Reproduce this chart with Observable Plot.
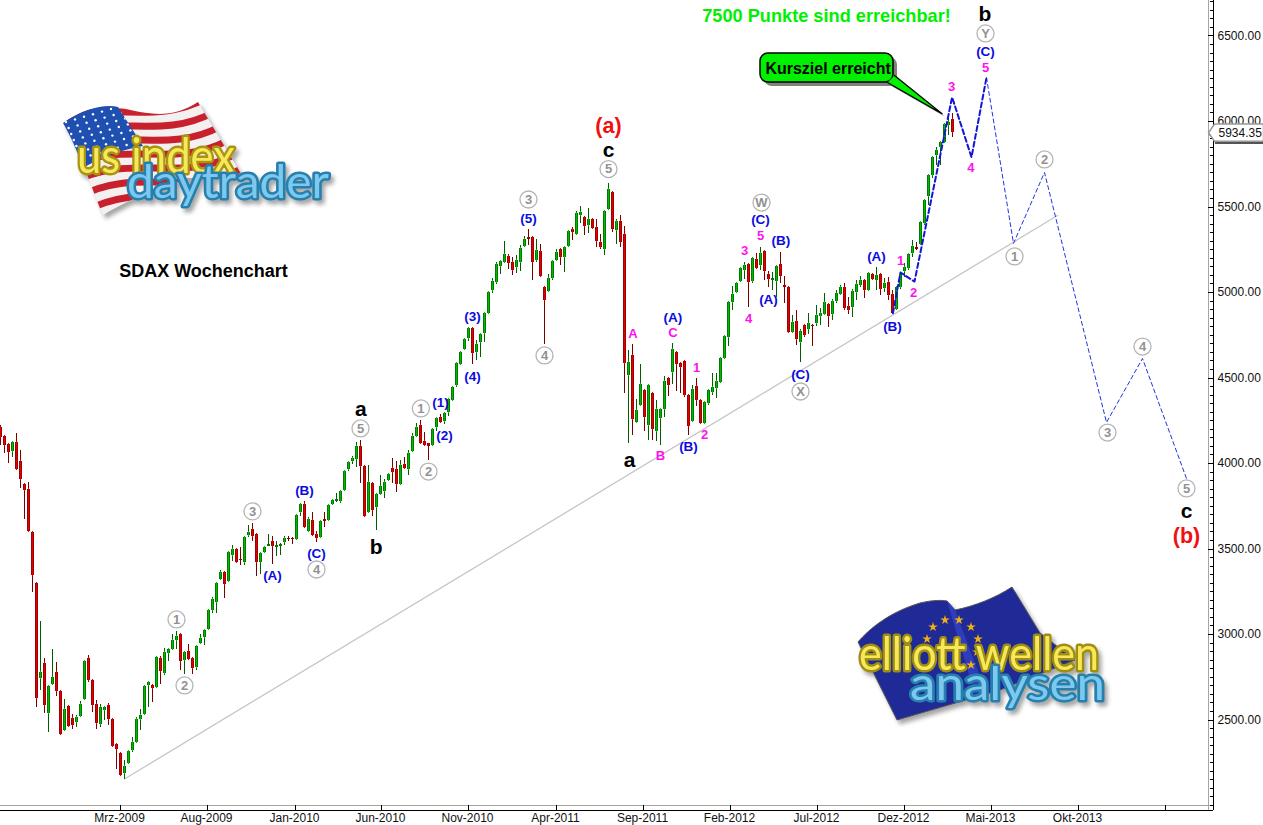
<!DOCTYPE html>
<html><head><meta charset="utf-8">
<script src="https://cdn.jsdelivr.net/npm/d3@7"></script>
<script src="https://cdn.jsdelivr.net/npm/@observablehq/plot@0.6"></script>
<style>
html,body{margin:0;padding:0;background:#fff;overflow:hidden}
#wrap{position:relative;width:1263px;height:825px}
#wrap>svg{position:absolute;left:0;top:0;display:block}
</style></head><body><div id="wrap"></div>
<script>
const direction = "RRRGRRRRRR"+"GRGGRRGRRG"+"GGRRRGGRRR"+"RGGGGGGGRG"+"RGGGGRGRRG"+"GGGGGGRGGR"+"RGGRRGGGRG"+"GGRRGGRGRR"+"GRGGGGGGGG"+"RRGRGGGGRR"+"GRGGGRRRGG"+"RGGGGGGGRG"+"GGGGGGGRRG"+"GGRRGRRGGG"+"RGGRGGRGRR"+"RGGRGRRGRG"+"GRGRGGGRGR"+"RRRGRRGGGG"+"GGGGGGGRGR"+"GRRGGRRRGR"+"GRGRGGGRGG"+"GRRGGGRGRG"+"RGRRGGGGGR"+"GGGGGGGGR";
const highs = [
4222,4163,4118,4122,4173,4076,3877,3888,3596,3296,
3075,2859,2699,2911,2835,2671,2619,2578,2535,2525,
2607,2841,2876,2736,2613,2590,2580,2597,2502,2363,
2303,2266,2315,2395,2512,2564,2699,2718,2699,2874,
2874,2921,2915,2999,3017,2999,2894,2941,2859,2935,
2999,3023,3145,3218,3305,3374,3362,3479,3518,3498,
3510,3567,3635,3647,3588,3473,3514,3582,3572,3545,
3531,3572,3572,3568,3699,3764,3777,3684,3715,3602,
3662,3711,3760,3791,3822,3845,3962,4011,4042,4124,
4134,3984,3988,3890,3820,3929,3908,3943,4027,4009,
4017,4037,4076,4173,4235,4251,4183,4115,4198,4268,
4286,4293,4377,4449,4586,4654,4728,4789,4793,4718,
4761,4878,5001,5079,5177,5190,5298,5222,5202,5216,
5272,5327,5366,5325,5309,5280,5034,5105,5186,5249,
5253,5268,5356,5381,5475,5502,5438,5491,5426,5424,
5339,5475,5635,5584,5424,5450,5385,4660,4695,4377,
4579,4427,4456,4407,4368,4320,4509,4505,4700,4651,
4593,4599,4398,4456,4499,4368,4355,4427,4525,4528,
4622,4743,4944,5035,5061,5143,5174,5162,5197,5226,
5262,5246,5125,5119,5158,5232,5096,5031,4866,4895,
4784,4807,4875,4811,4923,4904,4995,4933,4962,5011,
5040,5050,4972,5017,5070,5093,5077,5116,5112,5144,
5112,5081,5089,5011,5031,5112,5167,5226,5307,5294,
5409,5541,5686,5791,5850,5885,5986,6015,6045];
const bodyTops = [
4212,4157,4111,4120,4120,4009,3877,3847,3594,3296,
2777,2833,2695,2748,2777,2666,2564,2578,2506,2514,
2588,2841,2859,2730,2593,2572,2572,2582,2502,2358,
2303,2231,2313,2371,2502,2525,2695,2718,2699,2865,
2859,2894,2911,2964,2987,2999,2892,2900,2859,2929,
2976,3021,3139,3202,3301,3362,3360,3477,3500,3496,
3438,3567,3596,3613,3584,3471,3508,3524,3543,3520,
3528,3563,3563,3563,3695,3758,3760,3674,3664,3584,
3658,3672,3754,3783,3789,3836,3953,4003,4027,4097,
4099,3982,3888,3882,3816,3865,3890,3935,3970,3964,
3986,3994,4058,4157,4208,4222,4126,4115,4196,4266,
4268,4291,4373,4447,4582,4652,4724,4787,4789,4695,
4754,4875,4999,5062,5163,5181,5222,5212,5173,5186,
5255,5309,5321,5321,5245,5237,5032,5081,5183,5233,
5251,5265,5354,5366,5460,5467,5436,5424,5424,5378,
5292,5471,5602,5582,5413,5417,5339,4590,4631,4309,
4460,4425,4454,4407,4314,4316,4480,4497,4667,4649,
4585,4597,4396,4433,4450,4366,4355,4425,4443,4480,
4614,4741,4942,4989,5055,5141,5156,5162,5197,5193,
5230,5240,5106,5080,5152,5164,5041,5029,4825,4833,
4772,4805,4817,4809,4865,4878,4941,4929,4947,4993,
5029,5031,4919,5005,5044,5070,5070,5112,5108,5097,
5107,5050,5058,4988,5027,5108,5144,5222,5268,5266,
5407,5537,5682,5789,5830,5879,5980,5994,6009];
const bodyBottoms = [
4154,4105,4066,4072,3964,3908,3845,3602,3346,2627,
2744,2586,2539,2709,2668,2414,2439,2461,2469,2484,
2521,2621,2730,2586,2480,2475,2556,2504,2346,2326,
2176,2186,2244,2320,2369,2502,2533,2703,2683,2691,
2783,2773,2890,2915,2964,2843,2847,2855,2800,2808,
2948,2984,3030,3143,3190,3323,3294,3311,3463,3422,
3430,3420,3580,3572,3420,3420,3479,3516,3516,3510,
3516,3539,3555,3555,3557,3715,3627,3602,3578,3563,
3568,3662,3668,3760,3777,3779,3843,3966,4011,4021,
3980,3691,3715,3725,3744,3818,3838,3898,3949,3877,
3877,3972,3966,4072,4159,4118,4107,4101,4106,4208,
4241,4243,4299,4368,4455,4578,4668,4732,4644,4650,
4709,4761,4878,5011,5060,5151,5175,5167,5128,5146,
5177,5270,5311,5177,5186,5095,4951,5007,5081,5190,
5206,5206,5268,5350,5342,5452,5387,5389,5376,5300,
5261,5253,5483,5368,5362,5294,4586,4512,4260,4241,
4339,4271,4224,4201,4189,4265,4318,4458,4530,4579,
4563,4398,4216,4248,4368,4236,4232,4353,4415,4441,
4476,4614,4735,4942,5000,5067,5129,5061,5067,5143,
5156,5125,5076,5070,5067,5096,5031,4768,4768,4723,
4710,4749,4786,4801,4820,4861,4871,4859,4871,4945,
4990,4904,4894,4910,5001,5040,5011,5011,5077,5073,
5019,5023,4984,4875,4898,5031,5124,5140,5229,5253,
5280,5401,5563,5682,5801,5850,5879,5978,5934];
const lows = [
4105,4060,3998,4037,3958,3855,3672,3598,3247,2574,
2671,2539,2426,2709,2636,2410,2439,2457,2443,2455,
2516,2621,2720,2543,2445,2457,2496,2469,2340,2213,
2176,2155,2244,2309,2360,2437,2531,2574,2601,2691,
2707,2759,2841,2906,2915,2788,2765,2853,2765,2788,
2944,2935,3030,3120,3124,3319,3212,3311,3428,3416,
3405,3405,3565,3545,3340,3350,3475,3514,3409,3455,
3461,3520,3545,3524,3557,3691,3627,3594,3572,3539,
3568,3627,3666,3754,3771,3764,3843,3955,3994,3978,
3884,3691,3715,3689,3609,3812,3793,3894,3884,3832,
3877,3968,3929,4070,4157,4111,4101,4017,4106,4188,
4237,4227,4274,4368,4445,4572,4666,4715,4578,4601,
4621,4709,4878,4995,5046,5105,5175,5132,5101,5112,
5124,5268,5272,5069,5177,5089,4695,5007,5073,5186,
5157,5118,5261,5303,5339,5405,5333,5343,5370,5265,
5253,5218,5479,5350,5280,5261,4410,4118,4163,4235,
4333,4189,4134,4134,4131,4107,4271,4394,4462,4421,
4407,4388,4166,4242,4333,4232,4228,4339,4398,4378,
4474,4610,4684,4895,4996,5061,5076,4915,5055,5139,
5129,5070,5031,5012,4973,5051,4934,4768,4762,4690,
4593,4739,4755,4684,4800,4806,4865,4793,4836,4933,
4982,4894,4871,4855,4953,5031,4964,5005,5070,5011,
4982,5001,4953,4871,4894,5015,5089,5128,5206,5245,
5276,5393,5508,5666,5742,5742,5869,5918,5908];

const timeTicks = [30,51.75,73.75,95.25,117,139,160.75,182.5,204.25,226,247.75,269.5,291.25];
const timeLabels = ["Mrz-2009","Aug-2009","Jan-2010","Jun-2010","Nov-2010","Apr-2011","Sep-2011","Feb-2012","Jul-2012","Dez-2012","Mai-2013","Okt-2013",""];
const priceTicks = [2500,3000,3500,4000,4500,5000,5500,6000,6500];
const minorTicks = d3.range(2000,6701,50);
const lastPrice = 5934.35;

const trendLine = [[31,2155],[264.25,5450]];
const forecastNear = [[223.1,4879],[225,5117],[228.5,5064],[237.9,6142],[242.75,5791],[246.5,6257]];
const forecastFar = [[246.5,6257],[253.25,5287],[261,5702],[276.5,4240],[285.5,4614],[296.5,3912]];

const circled = [[44,3088,"1"],[46,2702,"2"],[63,3720,"3"],[79,3380,"4"],[90,4205,"5"],[105.1,4322,"1"],[107,3953,"2"],[132,5544,"3"],[136,4632,"4"],[152,5722,"5"],[190.25,5526,"W"],[200,4421,"X"],[246.25,6515,"Y"],[261,5778,"2"],[253.5,5211,"1"],[276.75,4181,"3"],[285.5,4684,"4"],[296.5,3854,"5"]];
const blueLabels = [[68,3342,"(A)"],[76,3842,"(B)"],[79,3471,"(C)"],[110,4357,"(1)"],[111,4161,"(2)"],[118,4860,"(3)"],[118,4509,"(4)"],[132,5433,"(5)"],[168.1,4854,"(A)"],[172,4097,"(B)"],[192,4959,"(A)"],[195.1,5304,"(B)"],[190,5427,"(C)"],[200,4521,"(C)"],[219,5211,"(A)"],[223,4799,"(B)"],[246.25,6410,"(C)"]];
const magentaLabels = [[158.1,4761,"A"],[168.1,4766,"C"],[165,4047,"B"],[174,4562,"1"],[176,4170,"2"],[186,5246,"3"],[190,5334,"5"],[187,4848,"4"],[225,5188,"1"],[228.25,5000,"2"],[237.75,6205,"3"],[242.6,5731,"4"],[246.25,6316,"5"]];
const blackLabels = [[90.1,4316,"a"],[93.9,3512,"b"],[152,5831,"c"],[157.25,4018,"a"],[246.1,6626,"b"],[296.5,3720,"c"]];
const redLabels = [[152,5971,"(a)"],[296.5,3574,"(b)"]];
const calloutBox = [{x1:190,x2:223.25,y1:6228,y2:6398}];
const calloutTail = [[223.5,6269],[235.4,6045],[221.75,6228]];
const priceTag = [[302,lastPrice],[303.5,5985],[315.75,5985],[315.75,5885],[303.5,5885]];

const bars = highs.map((h,i)=>({k:i,high:h,low:lows[i],top:bodyTops[i],bottom:bodyBottoms[i],up:direction[i]==="G"}));
const upBars = bars.filter(b=>b.up), downBars = bars.filter(b=>!b.up);
const crisp = {shapeRendering:"crispEdges"};
const font = "'Liberation Sans', Arial, sans-serif";
const X = d=>d[0], Y = d=>d[1], T = d=>d[2];
const candle = (rows,dark,edge,mid)=>[
  Plot.ruleX(rows,{x:"k",y1:"low",y2:"high",stroke:dark,strokeWidth:1,...crisp}),
  Plot.ruleX(rows,{x:"k",y1:"bottom",y2:"top",stroke:edge,strokeWidth:3,...crisp}),
  Plot.ruleX(rows.filter(b=>b.top-b.bottom>14),{x:"k",y1:"bottom",y2:"top",insetTop:1,insetBottom:1,stroke:mid,strokeWidth:1,...crisp})
];
const labels = (rows,fill,fontSize,extra={})=>Plot.text(rows,{x:X,y:Y,text:T,fill,fontSize,fontWeight:"bold",fontFamily:font,lineAnchor:"middle",...extra});

const chart = Plot.plot({
  width:1263,height:825,marginTop:0,marginLeft:0,marginRight:50,marginBottom:15,
  style:{background:"white",overflow:"visible",fontFamily:font},
  x:{type:"linear",domain:[0,303.25]},
  y:{type:"linear",domain:[1970.8,6707.6]},
  marks:[
    Plot.line(trendLine,{x:X,y:Y,stroke:"#c6c6c0",strokeWidth:1.3}),
    ...candle(downBars,"#7a0000","#a00000","#e00000"),
    ...candle(upBars,"#006000","#007a00","#00b800"),
    Plot.line(forecastFar,{x:X,y:Y,stroke:"#1f35e0",strokeWidth:1,strokeDasharray:"4 3"}),
    Plot.line(forecastNear,{x:X,y:Y,stroke:"#1414d8",strokeWidth:2,strokeDasharray:"5 3"}),
    // axes
    Plot.ruleY([2000],{stroke:"#a6a69a",...crisp}),
    Plot.ruleY([1970.8],{stroke:"black",...crisp}),
    Plot.ruleX([302],{y1:1970.8,y2:6707.6,stroke:"#a6a69a",...crisp}),
    Plot.ruleX([303.25],{y1:1970.8,y2:6707.6,stroke:"black",...crisp}),
    Plot.ruleX(timeTicks,{y1:1970.8,y2:2000,stroke:"black",...crisp}),
    Plot.ruleY(minorTicks,{x1:302.5,x2:303.25,stroke:"black",...crisp}),
    Plot.ruleY(priceTicks,{x1:302,x2:303.25,stroke:"black",...crisp}),
    Plot.axisY({anchor:"right",ticks:priceTicks,tickSize:0,tickPadding:4,label:null,tickFormat:d=>d.toFixed(2),fontSize:12,fontFamily:font,color:"#111"}),
    Plot.axisX({anchor:"bottom",ticks:timeTicks,tickSize:0,tickPadding:3,dx:-1,label:null,tickFormat:d=>timeLabels[timeTicks.indexOf(d)],fontSize:12,fontFamily:font,color:"#111"}),
    // price tag
    Plot.line(priceTag,{x:X,y:Y,dx:1,dy:2,fill:"#555",stroke:"#555"}),
    Plot.line([...priceTag,priceTag[0]],{x:X,y:Y,fill:"white",stroke:"#9a9a9a"}),
    Plot.text([lastPrice],{x:[303.5],y:[lastPrice],text:d=>d.toFixed(2),dx:4,textAnchor:"start",fontSize:12,fontFamily:font,fill:"#111",lineAnchor:"middle"}),
    // labels
    Plot.dot(circled,{x:X,y:Y,r:8.5,fill:"white",stroke:"#b4b4b4",strokeWidth:1.3}),
    labels(circled,"#929292",13),
    labels(blueLabels,"#0b0be0",13.5),
    labels(magentaLabels,"#ff10ee",13),
    labels(blackLabels,"black",21),
    labels(redLabels,"#f01010",21.5),
    Plot.text(["SDAX Wochenchart"],{x:[50.75],y:[5123],text:d=>d,fontSize:18,fontWeight:"bold",fontFamily:font,fill:"black",lineAnchor:"middle"}),
    Plot.text(["7500 Punkte sind erreichbar!"],{x:[206.5],y:[6614],text:d=>d,fontSize:18.2,fontWeight:"bold",fontFamily:font,fill:"#00f000",lineAnchor:"middle"}),
    // callout
    Plot.rect(calloutBox,{x1:"x1",x2:"x2",y1:"y1",y2:"y2",rx:8,dx:4,dy:4,fill:"#808080"}),
    Plot.line(calloutTail,{x:X,y:Y,dx:3,dy:3,fill:"#808080",stroke:"none"}),
    Plot.rect(calloutBox,{x1:"x1",x2:"x2",y1:"y1",y2:"y2",rx:8,fill:"#00f000",stroke:"black",strokeWidth:1.5}),
    Plot.line(calloutTail,{x:X,y:Y,fill:"#00f000",stroke:"none"}),
    Plot.line(calloutTail,{x:X,y:Y,stroke:"black",strokeWidth:1.2}),
    Plot.text(["Kursziel erreicht"],{x:[206.9],y:[6310],text:d=>d,fontSize:16,fontWeight:"bold",fontFamily:font,fill:"black",lineAnchor:"middle"})
  ]
});
const wrap = document.getElementById("wrap");
wrap.appendChild(chart);

// Decorative logos (not chart data)
const ns = d3.create("svg").attr("width",1263).attr("height",825).style("pointer-events","none");
const defs = ns.append("defs");
defs.append("clipPath").attr("id","usFlag").append("path").attr("d","M63,123 C85,108 105,104 118,107 C150,115 172,119 198,102 L243,177 C205,168 150,188 103,215 C92,190 80,150 63,123Z");
defs.append("clipPath").attr("id","canton").append("path").attr("d","M63,123 C85,108 105,104 118,107 L143,146 C120,150 100,158 83,168 C78,152 70,135 63,123Z");
const us = ns.append("g").style("filter","drop-shadow(3px 4px 2px rgba(0,0,0,.35))");
const flag = us.append("g").attr("clip-path","url(#usFlag)");
flag.append("rect").attr("x",50).attr("y",90).attr("width",210).attr("height",140).attr("fill","#f4f0f0");
d3.range(0,14,2).forEach(i=>flag.append("path").attr("d","M40,128 C100,95 150,128 205,99").attr("transform",`translate(${i*3.6},${i*7})`).attr("fill","none").attr("stroke","#c8202c").attr("stroke-width",7));
const cant = us.append("g").attr("clip-path","url(#canton)");
cant.append("rect").attr("x",55).attr("y",100).attr("width",100).attr("height",80).attr("fill","#1f4fb0");
d3.range(0,9).forEach(r=>d3.range(0,9).forEach(c=>cant.append("circle").attr("cx",66+c*9+r*2.6).attr("cy",122-c*2.6+r*6).attr("r",1.2).attr("fill","white")));
const logoText = (g,t,x,y,len,size,fill,stroke)=>g.append("text").attr("x",x).attr("y",y).attr("textLength",len).attr("lengthAdjust","spacingAndGlyphs").attr("font-family","Lato, 'Open Sans', sans-serif").attr("font-weight","normal").attr("font-size",size).attr("fill",fill).attr("stroke",stroke).attr("stroke-width",5).attr("paint-order","stroke").attr("stroke-linejoin","round").text(t);
logoText(us,"us index",77,173,158,48,"#f6e85a","#a89410");
logoText(us,"daytrader",127,198,202,46,"#7cc8ee","#2580ae");

const eu = ns.append("g").style("filter","drop-shadow(3px 4px 2px rgba(0,0,0,.35))");
eu.append("path").attr("d","M858,642 C870,628 890,612 920,603 C932,600 942,600 947,601 L955,610 C975,606 995,598 1012,587 L1040,633 L1075,660 L1000,690 L897,720 Z").attr("fill","#1f2a96").attr("stroke","#555").attr("stroke-width",1);
eu.append("path").attr("d","M947,601 L955,610 L985,690 L975,695 Z").attr("fill","#2f3cc0");
const starPath = d3.symbol(d3.symbolStar,28)();
[[933,627],[945,620],[959,620],[971,627],[978,639],[977,652],[971,665],[927,639]].forEach(([x,y])=>eu.append("path").attr("d",starPath).attr("transform",`translate(${x},${y})`).attr("fill","#f0b010"));
logoText(eu,"elliott wellen",859,670,240,46,"#f6e85a","#a08e10");
logoText(eu,"analysen",910,700,195,46,"#7cc8ee","#2580ae");
wrap.appendChild(ns.node());
</script></body></html>
